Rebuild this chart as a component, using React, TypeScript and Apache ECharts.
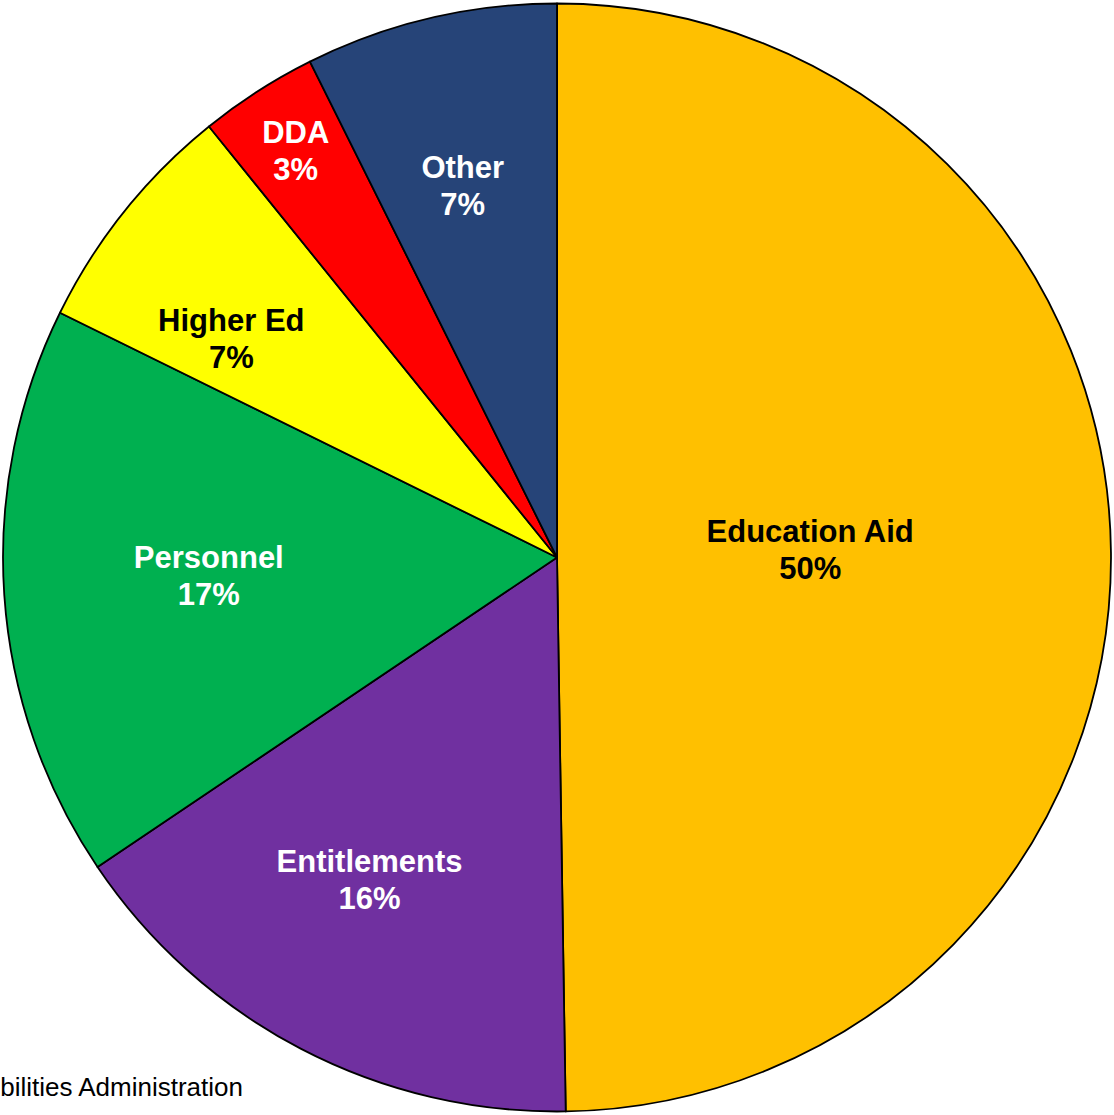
import React, { useEffect, useRef } from "react";
import * as echarts from "echarts";

const categories = ["Education Aid", "Entitlements", "Personnel", "Higher Ed", "DDA", "Other"];
const values = [49.7, 15.8, 16.7, 6.9, 3.45, 7.35];
const colors = ["#FFC000", "#7030A0", "#00B050", "#FFFF00", "#FF0000", "#264478"];
const labelColors = ["#000000", "#FFFFFF", "#FFFFFF", "#000000", "#FFFFFF", "#FFFFFF"];
// relative radial position of each label (fraction of pie radius)
const labelRadii = [0.457, 0.675, 0.63, 0.708, 0.874, 0.69];
// small label nudges [dx, dy] in px
const labelNudges = [[-3, -5], [-13, -12], [3, -5], [-17, 28], [2, 3], [-6, 4]];
const footerText = "bilities Administration";

const W = 1114;
const H = 1115;
const CX = 557;
const CY = 557.5;
const R = 554;
const FONT = 'Arial, "Liberation Sans", sans-serif';

export default function App() {
  const ref = useRef<HTMLDivElement>(null);
  useEffect(() => {
    document.body.style.margin = "0";
    const chart = echarts.init(ref.current!, null, { renderer: "svg" });
    const data = categories.map((name, i) => ({
      name,
      value: values[i],
      itemStyle: { color: colors[i] },
    }));
    const labelSeries = categories.map((_, k) => ({
      type: "pie",
      silent: true,
      z: 5,
      center: [CX, CY],
      radius: [0, 2 * labelRadii[k] * R],
      startAngle: 90,
      clockwise: true,
      avoidLabelOverlap: false,
      labelLine: { show: false },
      labelLayout: { dx: labelNudges[k][0], dy: labelNudges[k][1] },
      itemStyle: { color: "rgba(0,0,0,0)", borderWidth: 0 },
      emphasis: { disabled: true },
      data: categories.map((name, i) => ({
        name,
        value: values[i],
        itemStyle: { color: "rgba(0,0,0,0)", borderWidth: 0 },
        label: {
          show: i === k,
          position: "inside",
          color: labelColors[i],
          fontFamily: FONT,
          fontWeight: "bold",
          fontSize: 31,
          lineHeight: 37,
          formatter: (p: any) => `${p.name}\n${Math.round(p.percent)}%`,
        },
      })),
    }));
    chart.setOption({
      animation: false,
      backgroundColor: "#FFFFFF",
      series: [
        {
          type: "pie",
          center: [CX, CY],
          radius: [0, R],
          startAngle: 90,
          clockwise: true,
          label: { show: false },
          labelLine: { show: false },
          itemStyle: { borderColor: "#000000", borderWidth: 1.8 },
          emphasis: { disabled: true },
          data,
        },
        ...labelSeries,
      ],
      graphic: [
        {
          type: "text",
          x: 243,
          y: 1087,
          style: {
            text: footerText,
            fill: "#000000",
            font: `26px ${FONT}`,
            align: "right",
            verticalAlign: "middle",
          },
        },
      ],
    } as any);
    return () => chart.dispose();
  }, []);
  return (
    <div
      ref={ref}
      style={{ position: "fixed", left: 0, top: 0, width: W, height: H }}
    />
  );
}
